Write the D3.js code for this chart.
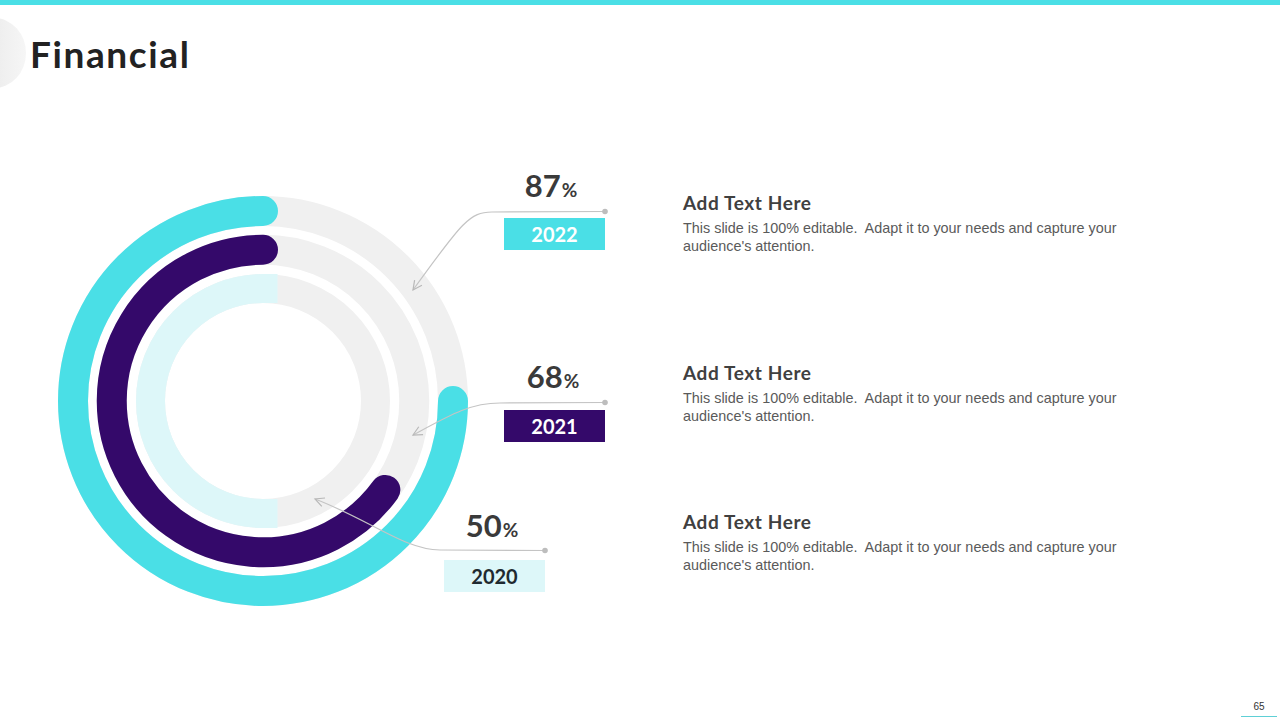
<!DOCTYPE html>
<html>
<head>
<meta charset="utf-8">
<script src="https://cdn.jsdelivr.net/npm/d3@7"></script>
<style>
  html, body { margin: 0; padding: 0; background: #ffffff; }
  svg { display: block; }
  text { white-space: pre; }
</style>
</head>
<body>
<svg id="chart" width="1280" height="720"></svg>
<script>
// ---- data ----
const years = ["2022", "2021", "2020"];
const percents = [87, 68, 50];            // printed labels
const arcShares = [0.75, 0.65, 0.50];      // share of each ring that is filled, as drawn
const headings = ["Add Text Here", "Add Text Here", "Add Text Here"];
const bodyLines = [
  ["This slide is 100% editable.  Adapt it to your needs and capture your", "audience's attention."],
  ["This slide is 100% editable.  Adapt it to your needs and capture your", "audience's attention."],
  ["This slide is 100% editable.  Adapt it to your needs and capture your", "audience's attention."]
];
const titleText = "Financial";
const pageNumber = "65";

// ---- styles ----
const CYAN = "#4adfe6", PURPLE = "#34096a", LIGHT = "#ddf7f9", TRACK = "#f0f0f0";
const ringColors = [CYAN, PURPLE, LIGHT];
const ringCaps = ["round", "round", "square"];
const boxColors = [CYAN, PURPLE, LIGHT];
const boxText = ["#ffffff", "#ffffff", "#1f2a30"];
const HEAD_FONT = "Lato, 'Open Sans', sans-serif";

const svg = d3.select("#chart");

// top bar
svg.append("rect").attr("x", 0).attr("y", 0).attr("width", 1280).attr("height", 5).attr("fill", CYAN);

// left tab
const defs = svg.append("defs");
const g1 = defs.append("linearGradient").attr("id", "tabGrad").attr("x1", 0).attr("x2", 1).attr("y1", 0).attr("y2", 0);
g1.append("stop").attr("offset", "0%").attr("stop-color", "#e4e4e4");
g1.append("stop").attr("offset", "100%").attr("stop-color", "#f6f6f6");
svg.append("ellipse").attr("cx", -6).attr("cy", 53).attr("rx", 32).attr("ry", 35).attr("fill", "url(#tabGrad)");

// title
svg.append("text").attr("x", 30).attr("y", 68)
  .attr("font-family", HEAD_FONT).attr("font-weight", 700).attr("font-size", 37)
  .attr("letter-spacing", 1.6)
  .attr("fill", "#222222").text(titleText);

// ---- rings ----
const cx = 263, cy = 401;
const rScale = d3.scalePoint().domain(years).range([190, 112.5]);
const angle = d3.scaleLinear().domain([0, 1]).range([0, 2 * Math.PI]);
const widths = [30, 30, 29];

const rings = svg.append("g");
years.forEach((y, i) => {
  const r = rScale(y);
  rings.append("circle").attr("cx", cx).attr("cy", cy).attr("r", r)
    .attr("fill", "none").attr("stroke", TRACK).attr("stroke-width", widths[i]);
});
years.forEach((y, i) => {
  const r = rScale(y);
  const p = d3.path();
  const a0 = -Math.PI / 2;
  p.moveTo(cx, cy - r);
  p.arc(cx, cy, r, a0, a0 - angle(arcShares[i]), true);
  rings.append("path").attr("d", p.toString())
    .attr("fill", "none").attr("stroke", ringColors[i])
    .attr("stroke-width", widths[i]).attr("stroke-linecap", ringCaps[i]);
});

// ---- connectors ----
const LINE = "#c4c4c4";
const marker = defs.append("marker").attr("id", "arrow")
  .attr("viewBox", "-10 -6 12 12").attr("refX", 0).attr("refY", 0)
  .attr("markerWidth", 12).attr("markerHeight", 12)
  .attr("markerUnits", "userSpaceOnUse").attr("orient", "auto");
marker.append("path").attr("d", "M-9,-4.5 L0,0 L-9,4.5").attr("fill", "none")
  .attr("stroke", "#b8b8b8").attr("stroke-width", 1.2);

const connectors = [
  "M605,211.5 L492,212 C470,212 462,222 413,290",
  "M605,402.5 L500,403 C470,403 450,415 413,435",
  "M545,550.5 L440,550 C405,550 370,520 315,499"
];
const dots = [[605, 211.5], [605, 402.5], [545, 550.5]];
connectors.forEach((d, i) => {
  svg.append("path").attr("d", d).attr("fill", "none").attr("stroke", LINE)
    .attr("stroke-width", 1.2).attr("marker-end", "url(#arrow)");
  svg.append("circle").attr("cx", dots[i][0]).attr("cy", dots[i][1]).attr("r", 2.8).attr("fill", "#bdbdbd");
});

// ---- labels ----
const pctPos = [[551, 197], [553, 388], [492, 537]];
const boxPos = [[504, 218], [504, 410], [444, 560]];
years.forEach((y, i) => {
  const t = svg.append("text").attr("x", pctPos[i][0]).attr("y", pctPos[i][1])
    .attr("text-anchor", "middle").attr("font-family", HEAD_FONT).attr("font-weight", 700)
    .attr("fill", "#3a3a3a");
  t.append("tspan").attr("font-size", 31).text(percents[i]);
  t.append("tspan").attr("font-size", 19).attr("dx", 1).text("%");

  svg.append("rect").attr("x", boxPos[i][0]).attr("y", boxPos[i][1])
    .attr("width", 101).attr("height", 32).attr("fill", boxColors[i]);
  svg.append("text").attr("x", boxPos[i][0] + 50.5).attr("y", boxPos[i][1] + 24)
    .attr("text-anchor", "middle").attr("font-family", HEAD_FONT).attr("font-weight", 700)
    .attr("font-size", 20).attr("fill", boxText[i]).text(y);
});

// ---- text blocks ----
const blockY = [210, 380, 529];
headings.forEach((h, i) => {
  svg.append("text").attr("x", 683).attr("y", blockY[i])
    .attr("font-family", HEAD_FONT).attr("font-weight", 700).attr("font-size", 19)
    .attr("letter-spacing", 0.6)
    .attr("fill", "#404040").text(h);
  bodyLines[i].forEach((line, j) => {
    svg.append("text").attr("x", 683).attr("y", blockY[i] + 23 + j * 18)
      .attr("font-family", "'Liberation Sans', Arial, sans-serif").attr("font-size", 14.4)
      .attr("fill", "#5a5a5a").text(line);
  });
});

// ---- page number ----
svg.append("text").attr("x", 1259).attr("y", 710).attr("text-anchor", "middle")
  .attr("font-family", "'Liberation Sans', Arial, sans-serif").attr("font-size", 10)
  .attr("fill", "#333333").text(pageNumber);
svg.append("line").attr("x1", 1241).attr("x2", 1277).attr("y1", 716.5).attr("y2", 716.5)
  .attr("stroke", "#5fd0d6").attr("stroke-width", 1);
</script>
</body>
</html>
